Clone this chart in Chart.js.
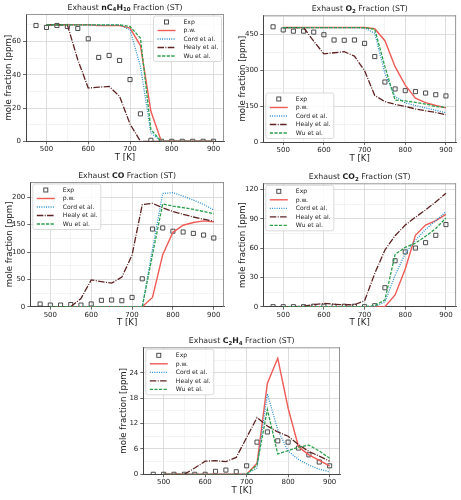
<!DOCTYPE html>
<html><head><meta charset="utf-8">
<script src="https://cdn.jsdelivr.net/npm/chart.js@4.4.1/dist/chart.umd.min.js"></script>
<style>
html,body{margin:0;padding:0;background:#fff;}
#wrap{position:relative;width:461px;height:500px;overflow:hidden;background:#fff;}
#wrap canvas{position:absolute;}
</style></head><body><div id="wrap"></div>
<script>
// ---------- data ----------
const modelTemps = [500,525,550,575,600,625,650,675,700,725,750,775,800,825,850,875,900];
const expTemps   = [475,500,525,550,575,600,625,650,675,700,725,750,775,800,825,850,875,900];
const seriesNames = ['Exp','p.w.','Cord et al.','Healy et al.','Wu et al.'];
const xAxisLabel = 'T [K]';
const yAxisLabel = 'mole fraction [ppm]';
const xTickValues = [500,600,700,800,900];
const xMinorValues = [550,650,750,850];

// nC4H10
const expNC4H10   = [69.6,68.4,69.6,69.0,67.8,61.6,50.4,51.6,48.6,37.1,16.5,0.6,0,0,0,0,0,0];
const pwNC4H10    = [70,70,70,70,70,69.5,69.5,69.5,68,57.5,18,0,0,0,0,0,0];
const cordNC4H10  = [70,70,70,70,70,70,70,70,67,45,5,0,0,0,0,0,0];
const healyNC4H10 = [70,70,70,49,32,32.5,33,27,10.4,0,0,0,0,0,0,0,0];
const wuNC4H10    = [70,70,70,70,70,70,70,70,69,62,7,0,0,0,0,0,0];
const yTicksNC4H10 = [0,20,40,60];
const yMinorNC4H10 = [10,30,50,70];

// O2
const expO2   = [480,467,462,462,458,447,425,424,425,411,356,250,221,214,210,204,197,192];
const pwO2    = [477,477,477,477,477,477,477,477,477,472,422,314,237,183,164,152,142];
const cordO2  = [477,477,477,477,477,477,477,477,475,453,286,189,163,152,142,132,122];
const healyO2 = [477,477,477,420,367,372,376,358,297,194,168,157,148,138,130,123,114];
const wuO2    = [477,477,477,477,477,477,477,477,476,470,314,175,171,165,158,148,144];
const yTicksO2 = [0,150,300,450];
const yMinorO2 = [75,225,375,525];

// CO
const expCO   = [4.9,3,3,4,3,5,11.6,12.2,11,17,51,142,144,138,136.6,134,131,125.6];
const pwCO    = [0,0,0,0,0,0,0,0,0,0,17,95,136,149,154,157,155];
const cordCO  = [0,0,0,0,0,0,0,0,0,0,105,207,208.5,202,195,187,177];
const healyCO = [0,0,0,15,49,46,43,54,94.5,186.6,189,181,174,169,164,160,156];
const wuCO    = [0,0,0,0,0,0,0,0,0,0,95,188,184,181,178,174,170];
const yTicksCO = [0,50,100,150,200];
const yMinorCO = [25,75,125,175,225];

// CO2
const expCO2   = [0,0,0,0,0.5,0.5,0.5,0.5,0.5,0,1,19.4,47,56,60,65.5,73,84];
const pwCO2    = [0,0,0,0,0,0,0,0,0,0,0,12,38.5,73,83.5,88,94.4];
const cordCO2  = [0,0,0,0,0,0,0,0,0,0,5,32,54.5,68,79,88,97];
const healyCO2 = [0,0,0.5,2,3.4,2.5,2,2,6,34,58,72.6,83.5,91.5,99,107,116];
const wuCO2    = [0,0,0,0,0,0,0,0,0,1,7,53.5,60.7,65,72,80,90.7];
const yTicksCO2 = [0,30,60,90,120];
const yMinorCO2 = [15,45,75,105];

// C2H4
const expC2H4   = [0,0,0,0,0,0,0.7,1,0.6,2,7.6,10,7.9,7.6,6.2,4.6,2.9,2.0];
const pwC2H4    = [0,0,0,0,0,0,0,0,0,2.6,21.5,27.4,15.6,6.5,4.6,3.3,2];
const cordC2H4  = [0,0,0,0,0,0,0,0,0,1.5,19,10.5,5.5,3.5,2.2,1.2,0.6];
const healyC2H4 = [0,0,0,1.5,3.1,3.2,3,4,8.7,13.4,11.4,10,9,7,5.4,4.3,3.1];
const wuC2H4    = [0,0,0,0,0,0,0,0,0,2.2,15.3,4.8,5.6,6.4,6.9,5.5,3.8];
const yTicksC2H4 = [0,6,12,18,24];
const yMinorC2H4 = [3,9,15,21,27];

// ---------- styling ----------
const FONT = "'DejaVu Sans', sans-serif";
const TXT = '#1e1e1e';
const styles = [
  {color:'#3a3a3a', dash:[], width:0.9},              // Exp markers
  {color:'#ef5b55', dash:[], width:1.4},              // p.w.
  {color:'#2b8fd3', dash:[1,1.3], width:1.3},         // Cord
  {color:'#5e2424', dash:[6.5,1.4,1,1.4], width:1.3}, // Healy
  {color:'#2aa04c', dash:[3.2,1.4], width:1.3}        // Wu
];

const panels = [
  {canvas:[0,0,230,165], plot:[26,14,224,141.3], ymax:76.5, yT:yTicksNC4H10, yM:yMinorNC4H10, ylab:17,
   title:[['Exhaust ',0],['nC',1],['4',2],['H',1],['10',2],[' Fraction (ST)',0]], leg:'ur',
   d:[expNC4H10,pwNC4H10,cordNC4H10,healyNC4H10,wuNC4H10]},
  {canvas:[230,0,231,165], plot:[263.3,15.3,456.7,142], ymax:528, yT:yTicksO2, yM:yMinorO2, ylab:21,
   title:[['Exhaust ',0],['O',1],['2',2],[' Fraction (ST)',0]], leg:'ll',
   d:[expO2,pwO2,cordO2,healyO2,wuO2]},
  {canvas:[0,165,230,165], plot:[30.3,182,224,306.7], ymax:228, yT:yTicksCO, yM:yMinorCO, ylab:21,
   title:[['Exhaust ',0],['CO',1],[' Fraction (ST)',0]], leg:'ul',
   d:[expCO,pwCO,cordCO,healyCO,wuCO]},
  {canvas:[230,165,231,165], plot:[263.3,183.3,456.7,306.7], ymax:126.2, yT:yTicksCO2, yM:yMinorCO2, ylab:21,
   title:[['Exhaust ',0],['CO',1],['2',2],[' Fraction (ST)',0]], leg:'ul',
   d:[expCO2,pwCO2,cordCO2,healyCO2,wuCO2]},
  {canvas:[100,330,261,170], plot:[143.3,347.3,340,474.3], ymax:30, yT:yTicksC2H4, yM:yMinorC2H4, ylab:20,
   title:[['Exhaust ',0],['C',1],['2',2],['H',1],['4',2],[' Fraction (ST)',0]], leg:'ul',
   d:[expC2H4,pwC2H4,cordC2H4,healyC2H4,wuC2H4]}
];

const XMIN = 451, XMAX = 925;
const XAXIS_H = 22;
const LABEL_FS = 8.6, TICK_FS = 7, TITLE_FS = 7.8, SUB_FS = 5.5, LEG_FS = 6.1;

const decor = {
  id:'decor',
  afterDraw(chart){
    const p = chart.options.plugins.decor;
    const ctx = chart.ctx, a = chart.chartArea;
    ctx.save();
    // top/right spines
    ctx.strokeStyle = '#8a8a8a'; ctx.lineWidth = 0.9;
    ctx.beginPath();
    ctx.moveTo(a.left, a.top+0.5); ctx.lineTo(a.right, a.top+0.5);
    ctx.moveTo(a.right-0.5, a.top); ctx.lineTo(a.right-0.5, a.bottom);
    ctx.stroke();
    // title
    const fontOf = k => (k===0 ? `${TITLE_FS}px ${FONT}` : k===1 ? `bold ${TITLE_FS}px ${FONT}` : `bold ${SUB_FS}px ${FONT}`);
    let total = 0;
    p.title.forEach(([t,k]) => { ctx.font = fontOf(k); total += ctx.measureText(t).width; });
    let x = (a.left + a.right)/2 - total/2;
    const base = a.top - 4.5;
    ctx.fillStyle = TXT; ctx.textBaseline = 'alphabetic'; ctx.textAlign = 'left';
    p.title.forEach(([t,k]) => {
      ctx.font = fontOf(k);
      ctx.fillText(t, x, k===2 ? base + 1.8 : base);
      x += ctx.measureText(t).width;
    });
    // legend
    const bw = 68, bh = 45.5, rowH = 8.5;
    let bx, by;
    if (p.leg === 'ur') { bx = a.right - 2.5 - bw; by = a.top + 2; }
    else if (p.leg === 'll') { bx = a.left + 2.5; by = a.bottom - 3.5 - bh; }
    else { bx = a.left + 2.5; by = a.top + 2; }
    ctx.beginPath();
    if (ctx.roundRect) ctx.roundRect(bx, by, bw, bh, 2); else ctx.rect(bx, by, bw, bh);
    ctx.fillStyle = 'rgba(255,255,255,0.85)'; ctx.fill();
    ctx.strokeStyle = '#d0d0d0'; ctx.lineWidth = 0.8; ctx.setLineDash([]); ctx.stroke();
    ctx.font = `${LEG_FS}px ${FONT}`; ctx.textBaseline = 'middle';
    seriesNames.forEach((name, i) => {
      const y = by + 6 + rowH*i;
      const s = styles[i];
      const x0 = bx + 4, x1 = bx + 22;
      if (i === 0) {
        const sz = 4;
        ctx.strokeStyle = s.color; ctx.lineWidth = s.width; ctx.setLineDash([]);
        ctx.strokeRect((x0+x1)/2 - sz/2, y - sz/2, sz, sz);
      } else {
        ctx.strokeStyle = s.color; ctx.lineWidth = s.width; ctx.setLineDash(s.dash);
        ctx.beginPath(); ctx.moveTo(x0, y); ctx.lineTo(x1, y); ctx.stroke();
      }
      ctx.setLineDash([]);
      ctx.fillStyle = TXT;
      ctx.fillText(name, bx + 30, y + 0.3);
    });
    ctx.restore();
  }
};

const wrap = document.getElementById('wrap');
panels.forEach(P => {
  const [cx, cy, cw, ch] = P.canvas;
  const [L, T, R, B] = P.plot;
  const cv = document.createElement('canvas');
  cv.width = cw; cv.height = ch;
  cv.style.left = cx + 'px'; cv.style.top = cy + 'px';
  cv.style.width = cw + 'px'; cv.style.height = ch + 'px';
  wrap.appendChild(cv);

  const yMajorSet = new Set(P.yT), xMajorSet = new Set(xTickValues);
  const datasets = P.d.map((arr, i) => {
    const xs = i === 0 ? expTemps : modelTemps;
    const s = styles[i];
    const base = {label: seriesNames[i], data: xs.map((t, j) => ({x: t, y: arr[j]}))};
    if (i === 0) {
      return Object.assign(base, {showLine:false, pointStyle:'rect', pointRadius:2.9, pointBorderWidth:s.width,
        pointBorderColor:s.color, pointBackgroundColor:'rgba(255,255,255,0)', borderColor:s.color, order:10});
    }
    return Object.assign(base, {borderColor:s.color, borderWidth:s.width, borderDash:s.dash, pointRadius:0,
      tension:0, fill:false, order:10 - i});
  });

  const ylabPad = (L - P.ylab - cx) - LABEL_FS*1.2/2;
  new Chart(cv.getContext('2d'), {
    type:'line',
    data:{datasets},
    options:{
      responsive:false, animation:false, devicePixelRatio:1,
      layout:{padding:{left:0, top:T - cy, right:cx + cw - R, bottom:(cy + ch) - (B + XAXIS_H)}},
      plugins:{legend:{display:false}, tooltip:{enabled:false}, decor:{title:P.title, leg:P.leg}},
      scales:{
        x:{type:'linear', min:XMIN, max:XMAX,
          afterBuildTicks: s => { s.ticks = xTickValues.concat(xMinorValues).sort((a,b)=>a-b).map(v => ({value:v})); },
          afterFit: s => { s.height = XAXIS_H; },
          ticks:{color:TXT, font:{family:FONT, size:TICK_FS}, padding:1.0, maxRotation:0, autoSkip:false,
            callback: v => xMajorSet.has(v) ? String(v) : ''},
          grid:{color: c => (c.tick && xMajorSet.has(c.tick.value)) ? '#d4d4d4' : '#ececec',
            lineWidth: c => (c.tick && xMajorSet.has(c.tick.value)) ? 0.8 : 0.6,
            tickColor: c => (c.tick && xMajorSet.has(c.tick.value)) ? '#444' : 'rgba(0,0,0,0)', tickLength:3},
          border:{color:'#444', width:1},
          title:{display:true, text:xAxisLabel, color:TXT, font:{family:FONT, size:LABEL_FS}, padding:{top:0, bottom:0.4}}
        },
        y:{type:'linear', min:0, max:P.ymax,
          afterBuildTicks: s => { s.ticks = P.yT.concat(P.yM).filter(v => v <= P.ymax).sort((a,b)=>a-b).map(v => ({value:v})); },
          afterFit: s => { s.width = L - cx; },
          ticks:{color:TXT, font:{family:FONT, size:TICK_FS}, padding:2, autoSkip:false,
            callback: v => yMajorSet.has(v) ? String(v) : ''},
          grid:{color: c => (c.tick && yMajorSet.has(c.tick.value)) ? '#d4d4d4' : '#ececec',
            lineWidth: c => (c.tick && yMajorSet.has(c.tick.value)) ? 0.8 : 0.6,
            tickColor: c => (c.tick && yMajorSet.has(c.tick.value)) ? '#444' : 'rgba(0,0,0,0)', tickLength:3},
          border:{color:'#444', width:1},
          title:{display:true, text:yAxisLabel, color:TXT, font:{family:FONT, size:LABEL_FS}, padding:{top:ylabPad, bottom:0}}
        }
      }
    },
    plugins:[decor]
  });
});
</script>
</body></html>
